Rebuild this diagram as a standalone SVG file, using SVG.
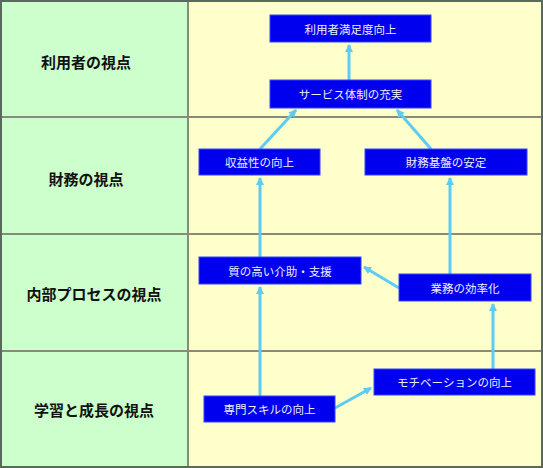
<svg xmlns="http://www.w3.org/2000/svg" width="543" height="468" viewBox="0 0 543 468">
<style>
.lbl{font-family:"Noto Sans CJK JP","Noto Sans CJK SC",sans-serif;font-size:15px;font-weight:bold;fill:#111;text-anchor:middle;dominant-baseline:central}
.box{fill:#0000EE;stroke:#3344FF;stroke-width:1}
.txt{font-family:"Noto Sans CJK JP","Noto Sans CJK SC",sans-serif;font-size:11.5px;fill:#EEEEFF;text-anchor:middle;dominant-baseline:central}
.con{stroke:#5CCCF2;stroke-width:3;fill:none;marker-end:url(#ah)}
.grid{stroke:#8A8A7A;stroke-width:2}
</style>
<defs>
<marker id="ah" markerWidth="10" markerHeight="10" refX="7" refY="4" orient="auto" markerUnits="userSpaceOnUse">
<path d="M0,0 L8,4 L0,8 Z" fill="#5CCCF2"/>
</marker>
</defs>
<g id="background">
<rect x="0" y="0" width="188" height="468" fill="#CCFFCC"/>
<rect x="188" y="0" width="355" height="468" fill="#FFFFCC"/>
<line class="grid" x1="0" y1="117" x2="543" y2="117"/>
<line class="grid" x1="0" y1="234" x2="543" y2="234"/>
<line class="grid" x1="0" y1="351" x2="543" y2="351"/>
<line class="grid" x1="188" y1="0" x2="188" y2="468"/>
<rect x="1" y="1" width="541" height="466" fill="none" stroke="#5A6A5A" stroke-width="2"/>
</g>
<g id="lanes">
<text class="lbl" x="86" y="61">利用者の視点</text>
<text class="lbl" x="86" y="178">財務の視点</text>
<text class="lbl" x="94" y="293">内部プロセスの視点</text>
<text class="lbl" x="94" y="409">学習と成長の視点</text>
</g>
<g id="connectors">
<line class="con" x1="349" y1="80" x2="349" y2="45"/>
<line class="con" x1="260" y1="149" x2="296" y2="110"/>
<line class="con" x1="431" y1="149" x2="397" y2="110"/>
<line class="con" x1="260" y1="257" x2="260" y2="178"/>
<line class="con" x1="450" y1="274" x2="450" y2="178"/>
<line class="con" x1="399" y1="288" x2="364" y2="267"/>
<line class="con" x1="260" y1="396" x2="260" y2="287"/>
<line class="con" x1="493" y1="369" x2="493" y2="304"/>
<line class="con" x1="335" y1="408" x2="371" y2="388"/>
</g>
<g id="n1"><rect class="box" x="270" y="15" width="161" height="27"/><text class="txt" x="350.5" y="28.5">利用者満足度向上</text></g>
<g id="n2"><rect class="box" x="270" y="80" width="161" height="28"/><text class="txt" x="350.5" y="94">サービス体制の充実</text></g>
<g id="n3"><rect class="box" x="199" y="149" width="121" height="26"/><text class="txt" x="259.5" y="162">収益性の向上</text></g>
<g id="n4"><rect class="box" x="365" y="149" width="162" height="26"/><text class="txt" x="446" y="162">財務基盤の安定</text></g>
<g id="n5"><rect class="box" x="199" y="257" width="162" height="27"/><text class="txt" x="280" y="270.5">質の高い介助・支援</text></g>
<g id="n6"><rect class="box" x="399" y="274" width="132" height="27"/><text class="txt" x="465" y="287.5">業務の効率化</text></g>
<g id="n7"><rect class="box" x="374" y="369" width="161" height="26"/><text class="txt" x="454.5" y="382">モチベーションの向上</text></g>
<g id="n8"><rect class="box" x="204" y="396" width="131" height="26"/><text class="txt" x="269.5" y="409">専門スキルの向上</text></g>
</svg>
